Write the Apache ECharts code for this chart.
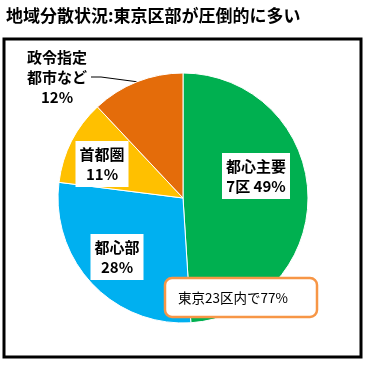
<!DOCTYPE html>
<html>
<head>
<meta charset="utf-8">
<script src="https://cdn.jsdelivr.net/npm/echarts@6/dist/echarts.min.js"></script>
<style>
html,body{margin:0;padding:0;background:#fff;}
#chart{width:367px;height:365px;}
</style>
</head>
<body>
<div id="chart"></div>
<script>
// ---- data ----
const titleText = '地域分散状況:東京区部が圧倒的に多い';
const categories = ['都心主要\n7区', '都心部', '首都圏', '政令指定\n都市など'];
const values = [49, 28, 11, 12];
const noteText = '東京23区内で77%';

// ---- styles / layout ----
const colors = ['#00B050', '#00B0F0', '#FFC000', '#E46C0A'];
const labelCenters = [[256, 176], [117, 257], [102, 164], [57, 77]];
const FONT = '"Noto Sans CJK JP", "Noto Sans", sans-serif';

const chart = echarts.init(document.getElementById('chart'), null, {renderer: 'canvas'});

const data = categories.map((name, i) => {
  const item = {name: name, value: values[i], itemStyle: {color: colors[i]}};
  if (i === 3) {
    item.label = {position: 'outside'};
    item.labelLine = {show: true, length: 10, length2: 10, lineStyle: {color: '#000', width: 1}};
  }
  return item;
});

chart.setOption({
  animation: false,
  title: {
    text: titleText,
    left: 1, top: 2,
    textStyle: {fontFamily: FONT, fontSize: 17, fontWeight: 'bold', color: '#000'}
  },
  graphic: [
    {type: 'rect', shape: {x: 4, y: 39, width: 357, height: 318},
     style: {fill: 'none', stroke: '#000', lineWidth: 3}, z: 0},
    {type: 'rect', zlevel: 1, z: 100, shape: {x: 165, y: 278, width: 152, height: 39, r: 7},
     style: {fill: '#fff', stroke: '#F79646', lineWidth: 2.5}},
    {type: 'text', zlevel: 1, z: 101, x: 178, y: 297.5,
     style: {text: noteText, fontFamily: FONT, fontSize: 13.5, fill: '#000', verticalAlign: 'middle'}}
  ],
  series: [{
    type: 'pie',
    center: [183, 198],
    radius: 125,
    startAngle: 90,
    clockwise: true,
    avoidLabelOverlap: false,
    itemStyle: {borderColor: '#fff', borderWidth: 1},
    label: {
      show: true,
      position: 'inside',
      formatter: p => p.name + (p.dataIndex === 0 ? ' ' : '\n') + p.value + '%',
      fontFamily: FONT,
      fontSize: 15,
      fontWeight: 'bold',
      lineHeight: 20,
      color: '#000',
      backgroundColor: '#fff',
      padding: [3, 4],
      align: 'center'
    },
    labelLine: {show: false},
    labelLayout: p => ({
      x: labelCenters[p.dataIndex][0],
      y: labelCenters[p.dataIndex][1],
      align: 'center',
      verticalAlign: 'middle'
    }),
    data: data
  }]
});
</script>
</body>
</html>
